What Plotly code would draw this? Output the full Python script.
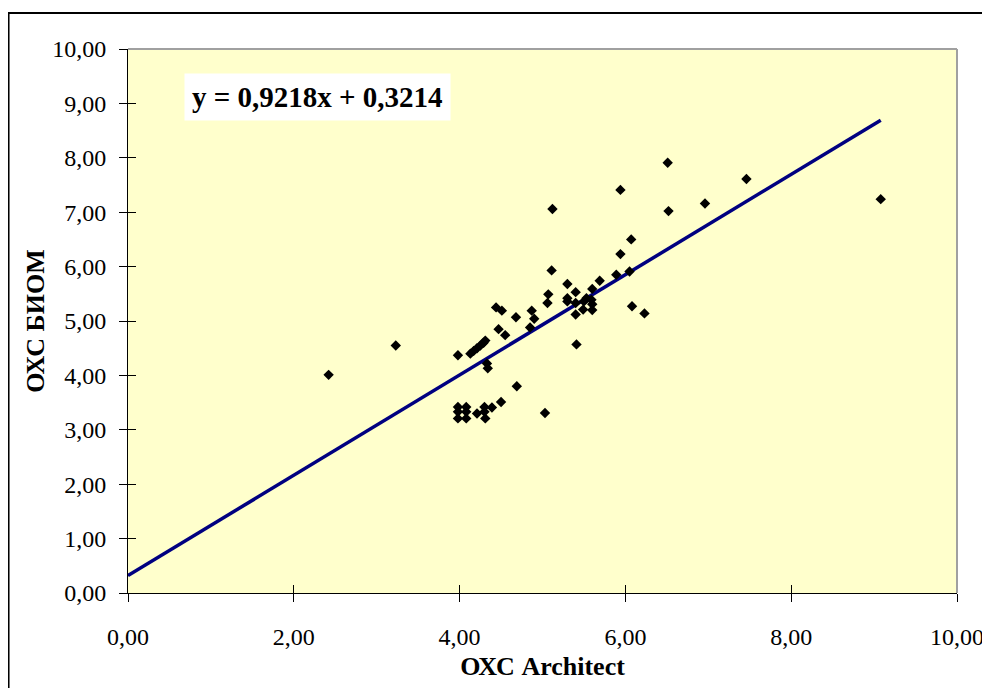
import plotly.graph_objects as go

# Data
oxc_architect = [2.42, 3.23, 3.98, 4.13, 4.17, 4.21, 4.25, 4.29, 4.31, 4.33, 4.34,
                 4.44, 4.51, 4.47, 4.55, 4.68, 4.69, 4.50, 4.39,
                 3.98, 3.98, 3.98, 4.08, 4.08, 4.08, 4.21, 4.30, 4.30, 4.31,
                 4.87, 4.90, 4.85, 5.03, 5.07, 5.06, 5.11, 5.12,
                 5.30, 5.30, 5.30, 5.40, 5.40, 5.40, 5.41,
                 5.53, 5.59, 5.60, 5.49, 5.60, 5.50, 5.60, 5.69,
                 5.89, 5.94, 5.94, 6.05, 6.07, 6.08, 6.23,
                 6.51, 6.52, 6.96, 7.46, 9.08]
oxc_biom = [4.01, 4.55, 4.37, 4.40, 4.45, 4.50, 4.55, 4.60, 4.64, 4.22, 4.13,
            5.25, 5.19, 4.85, 4.74, 5.07, 3.80, 3.51, 3.41,
            3.42, 3.33, 3.21, 3.42, 3.33, 3.21, 3.30, 3.42, 3.33, 3.21,
            5.19, 5.04, 4.88, 3.31, 5.49, 5.33, 5.93, 7.06,
            5.68, 5.42, 5.36, 5.53, 5.33, 5.12, 4.57,
            5.42, 5.39, 5.31, 5.21, 5.20, 5.36, 5.59, 5.74,
            5.85, 6.23, 7.41, 5.91, 6.50, 5.27, 5.14,
            7.91, 7.02, 7.16, 7.61, 7.24]

slope = 0.9218
intercept = 0.3214
trend_x = [0.0, 9.08]
trend_y = [slope * v + intercept for v in trend_x]

equation_text = "y = 0,9218x + 0,3214"
x_title = "ОХС Architect"
y_title = "ОХС БИОМ"

FONT = "Liberation Serif"

fig = go.Figure()
fig.add_trace(go.Scatter(x=trend_x, y=trend_y, mode="lines",
                         line=dict(color="#000080", width=3.5),
                         showlegend=False, hoverinfo="skip"))
fig.add_trace(go.Scatter(x=oxc_architect, y=oxc_biom, mode="markers",
                         marker=dict(symbol="diamond", size=8, color="black"),
                         showlegend=False))
# invisible trace to activate the overlay axes (inner half of cross ticks)
fig.add_trace(go.Scatter(x=[0], y=[0], xaxis="x2", yaxis="y2", mode="markers",
                         marker=dict(opacity=0), showlegend=False, hoverinfo="skip"))

axis_common = dict(range=[0, 10], showgrid=False, zeroline=False,
                   showline=True, linecolor="black", linewidth=1,
                   ticks="outside", ticklen=8, tickcolor="black", tickwidth=1,
                   tickformat=".2f",
                   tickfont=dict(family=FONT, size=24, color="black"))

fig.update_layout(
    width=990, height=688,
    margin=dict(l=120, r=41, t=41, b=103),
    paper_bgcolor="white", plot_bgcolor="#FFFFCC",
    separators=", ",
    font=dict(family=FONT, color="black"),
    xaxis=dict(**axis_common, dtick=2, ticklabelstandoff=14,
               title=dict(text="<b>" + x_title + "</b>",
                          font=dict(family=FONT, size=26), standoff=8)),
    yaxis=dict(**axis_common, dtick=1, ticklabelstandoff=8,
               title=dict(text="<b>" + y_title + "</b>",
                          font=dict(family=FONT, size=26), standoff=0)),
    xaxis2=dict(overlaying="x", range=[0, 10], dtick=2, ticks="inside", ticklen=8,
                tickcolor="black", showticklabels=False, showgrid=False,
                zeroline=False, showline=False),
    yaxis2=dict(overlaying="y", range=[0, 10], dtick=1, ticks="inside", ticklen=8,
                tickcolor="black", showticklabels=False, showgrid=False,
                zeroline=False, showline=False),
    shapes=[
        dict(type="line", xref="paper", yref="paper", x0=0, x1=1, y0=1, y1=1,
             line=dict(color="#A0A0A0", width=2)),
        dict(type="line", xref="paper", yref="paper", x0=1, x1=1, y0=0, y1=1,
             line=dict(color="#A0A0A0", width=2)),
        dict(type="rect", xref="paper", yref="paper", x0=-0.1441, x1=1.1,
             y0=-0.25, y1=1.066, line=dict(color="black", width=2)),
    ],
    annotations=[
        dict(text="<b>" + equation_text + "</b>", x=2.29, y=9.12,
             xref="x", yref="y", showarrow=False, xanchor="center", yanchor="middle",
             font=dict(family=FONT, size=29, color="black"),
             bgcolor="white", borderpad=7),
    ],
)

fig.write_html("out.html")
